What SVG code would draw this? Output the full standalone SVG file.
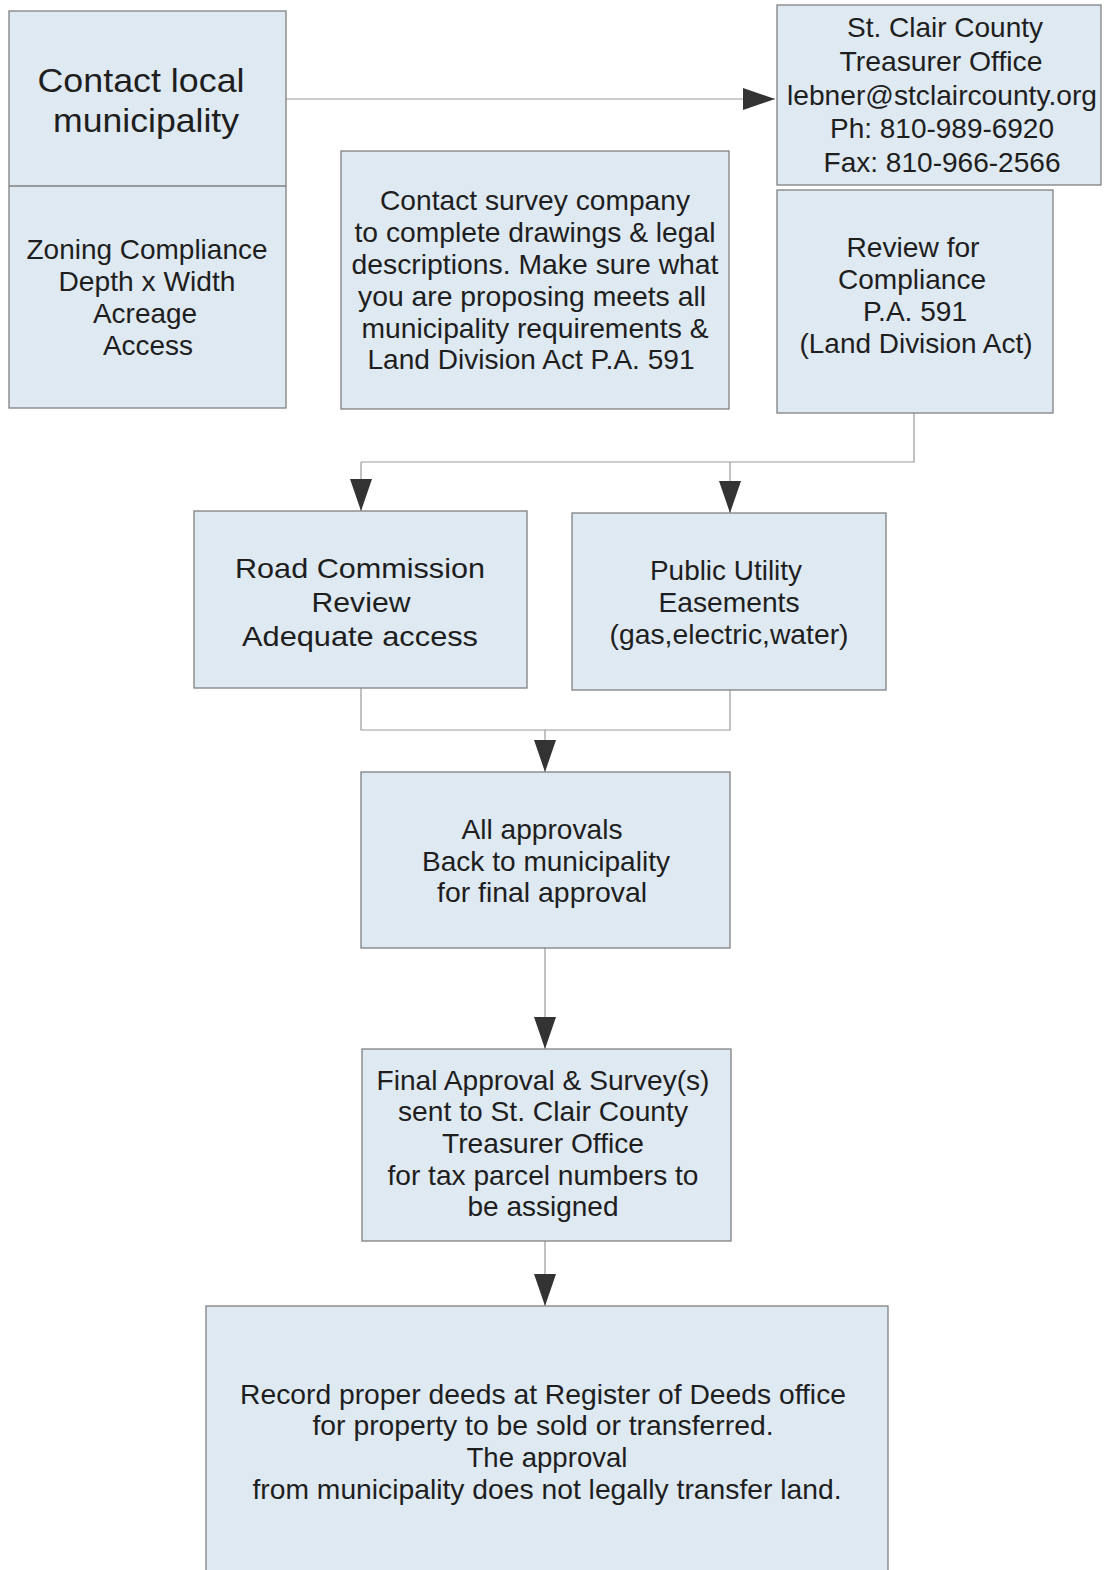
<svg xmlns="http://www.w3.org/2000/svg" width="1104" height="1570" viewBox="0 0 1104 1570">
<style>
.box{fill:#dee9f2;stroke:#808080;stroke-width:1.3}
.t{font-family:"Liberation Sans",Arial,sans-serif;fill:#1e1e1e;text-anchor:middle}
.f28{font-size:28px}
.f32{font-size:33px}
.c{fill:none;stroke:#9a9a9a;stroke-width:1.2}
</style>
<defs>
<marker id="ah" markerUnits="userSpaceOnUse" markerWidth="34" markerHeight="24" refX="32" refY="11" orient="auto">
<path d="M0,0 L32,11 L0,22 Z" fill="#333"/>
</marker>
</defs>
<rect width="1104" height="1570" fill="#fff"/>
<g id="connectors">
<path class="c" d="M286,99 H775" marker-end="url(#ah)"/>
<path class="c" d="M914,413 V462 H361"/>
<path class="c" d="M361,462 V511" marker-end="url(#ah)"/>
<path class="c" d="M730,462 V513" marker-end="url(#ah)"/>
<path class="c" d="M361,688 V730 H730 V690"/>
<path class="c" d="M545,730 V772" marker-end="url(#ah)"/>
<path class="c" d="M545,948 V1049" marker-end="url(#ah)"/>
<path class="c" d="M545,1241 V1306" marker-end="url(#ah)"/>
</g>
<g id="contact-municipality">
<rect class="box" x="9" y="11" width="277" height="397"/>
<line x1="9" y1="186" x2="286" y2="186" stroke="#808080" stroke-width="1.3"/>
<text class="t f32" x="141" y="92" textLength="207" lengthAdjust="spacingAndGlyphs">Contact local</text>
<text class="t f32" x="146" y="132" textLength="186" lengthAdjust="spacingAndGlyphs">municipality</text>
<g class="t f28">
<text x="147" y="259" textLength="241" lengthAdjust="spacingAndGlyphs">Zoning Compliance</text>
<text x="147" y="291" textLength="177" lengthAdjust="spacingAndGlyphs">Depth x Width</text>
<text x="145" y="323" textLength="104" lengthAdjust="spacingAndGlyphs">Acreage</text>
<text x="148" y="355" textLength="90" lengthAdjust="spacingAndGlyphs">Access</text>
</g>
</g>
<g id="treasurer">
<rect class="box" x="777" y="5" width="324" height="180"/>
<g class="t f28">
<text x="945" y="37" textLength="196" lengthAdjust="spacingAndGlyphs">St. Clair County</text>
<text x="941" y="71" textLength="203" lengthAdjust="spacingAndGlyphs">Treasurer Office</text>
<text x="942" y="105" textLength="310" lengthAdjust="spacingAndGlyphs">lebner@stclaircounty.org</text>
<text x="942" y="138" textLength="224" lengthAdjust="spacingAndGlyphs">Ph: 810-989-6920</text>
<text x="942" y="172" textLength="237" lengthAdjust="spacingAndGlyphs">Fax: 810-966-2566</text>
</g>
</g>
<g id="survey">
<rect class="box" x="341" y="151" width="388" height="258"/>
<g class="t f28">
<text x="535" y="210" textLength="310" lengthAdjust="spacingAndGlyphs">Contact survey company</text>
<text x="535" y="242" textLength="361" lengthAdjust="spacingAndGlyphs">to complete drawings &amp; legal</text>
<text x="535" y="274" textLength="367" lengthAdjust="spacingAndGlyphs">descriptions. Make sure what</text>
<text x="532" y="306" textLength="348" lengthAdjust="spacingAndGlyphs">you are proposing meets all</text>
<text x="535" y="338" textLength="347" lengthAdjust="spacingAndGlyphs">municipality requirements &amp;</text>
<text x="531" y="369" textLength="327" lengthAdjust="spacingAndGlyphs">Land Division Act P.A. 591</text>
</g>
</g>
<g id="review">
<rect class="box" x="777" y="190" width="276" height="223"/>
<g class="t f28">
<text x="913" y="257" textLength="133" lengthAdjust="spacingAndGlyphs">Review for</text>
<text x="912" y="289" textLength="148" lengthAdjust="spacingAndGlyphs">Compliance</text>
<text x="915" y="321" textLength="104" lengthAdjust="spacingAndGlyphs">P.A. 591</text>
<text x="916" y="353" textLength="233" lengthAdjust="spacingAndGlyphs">(Land Division Act)</text>
</g>
</g>
<g id="road-commission">
<rect class="box" x="194" y="511" width="333" height="177"/>
<g class="t f28">
<text x="360" y="578" textLength="250" lengthAdjust="spacingAndGlyphs">Road Commission</text>
<text x="361" y="612" textLength="99" lengthAdjust="spacingAndGlyphs">Review</text>
<text x="360" y="646" textLength="236" lengthAdjust="spacingAndGlyphs">Adequate access</text>
</g>
</g>
<g id="public-utility">
<rect class="box" x="572" y="513" width="314" height="177"/>
<g class="t f28">
<text x="726" y="580" textLength="152" lengthAdjust="spacingAndGlyphs">Public Utility</text>
<text x="729" y="612" textLength="141" lengthAdjust="spacingAndGlyphs">Easements</text>
<text x="729" y="644" textLength="239" lengthAdjust="spacingAndGlyphs">(gas,electric,water)</text>
</g>
</g>
<g id="all-approvals">
<rect class="box" x="361" y="772" width="369" height="176"/>
<g class="t f28">
<text x="542" y="839" textLength="161" lengthAdjust="spacingAndGlyphs">All approvals</text>
<text x="546" y="871" textLength="248" lengthAdjust="spacingAndGlyphs">Back to municipality</text>
<text x="542" y="902" textLength="210" lengthAdjust="spacingAndGlyphs">for final approval</text>
</g>
</g>
<g id="final-approval">
<rect class="box" x="362" y="1049" width="369" height="192"/>
<g class="t f28">
<text x="543" y="1090" textLength="333" lengthAdjust="spacingAndGlyphs">Final Approval &amp; Survey(s)</text>
<text x="543" y="1121" textLength="290" lengthAdjust="spacingAndGlyphs">sent to St. Clair County</text>
<text x="543" y="1153" textLength="202" lengthAdjust="spacingAndGlyphs">Treasurer Office</text>
<text x="543" y="1185" textLength="311" lengthAdjust="spacingAndGlyphs">for tax parcel numbers to</text>
<text x="543" y="1216" textLength="151" lengthAdjust="spacingAndGlyphs">be assigned</text>
</g>
</g>
<g id="record-deeds">
<rect class="box" x="206" y="1306" width="682" height="280"/>
<g class="t f28">
<text x="543" y="1404" textLength="606" lengthAdjust="spacingAndGlyphs">Record proper deeds at Register of Deeds office</text>
<text x="543" y="1435" textLength="461" lengthAdjust="spacingAndGlyphs">for property to be sold or transferred.</text>
<text x="547" y="1467" textLength="161" lengthAdjust="spacingAndGlyphs">The approval</text>
<text x="547" y="1499" textLength="589" lengthAdjust="spacingAndGlyphs">from municipality does not legally transfer land.</text>
</g>
</g>
</svg>
